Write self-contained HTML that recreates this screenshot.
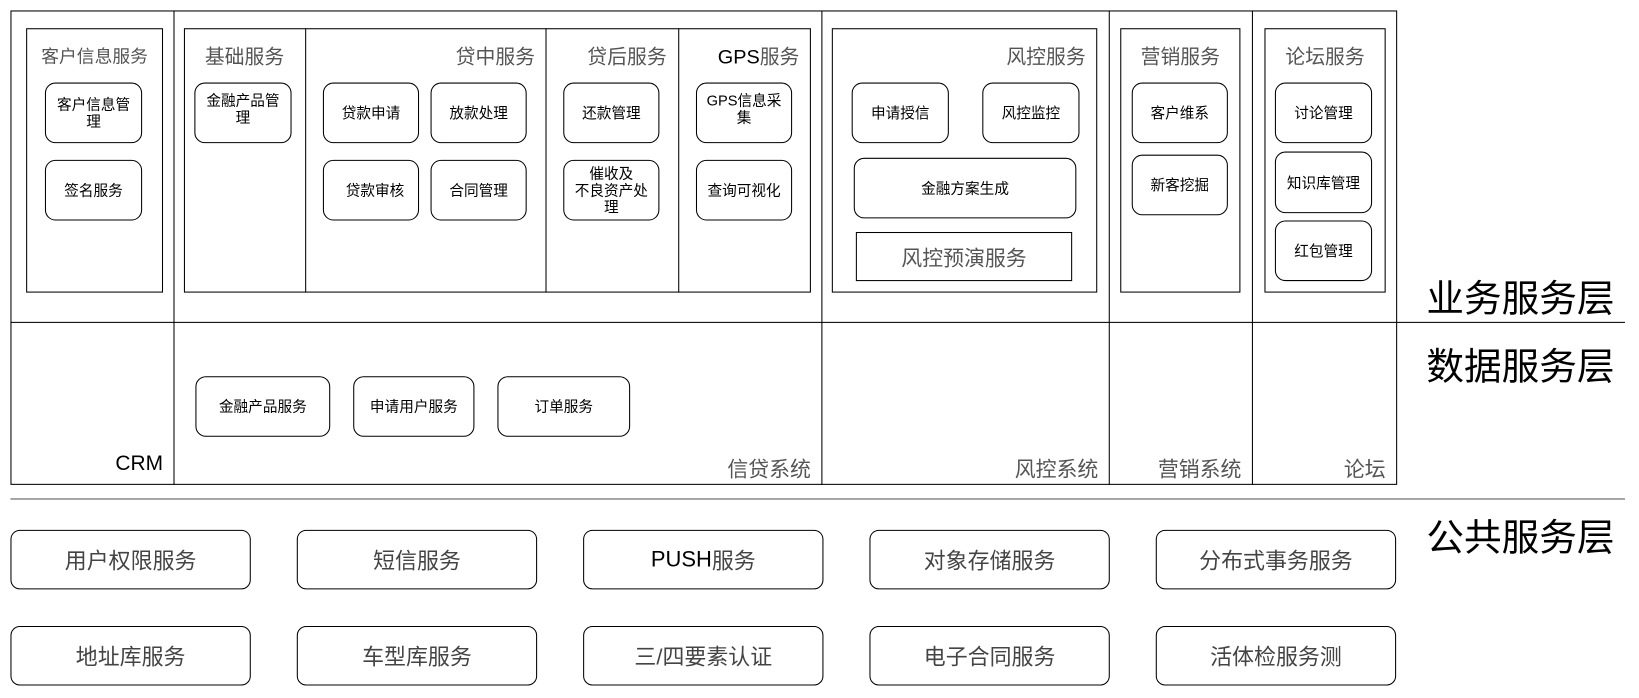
<!DOCTYPE html>
<html><head><meta charset="utf-8"><style>
html,body{margin:0;padding:0;background:#fff;}
body{width:1639px;height:698px;overflow:hidden;position:relative;}
#s{position:absolute;left:0;top:0;width:1568px;height:668px;transform:scale(1.045);transform-origin:0 0;font-family:"Liberation Sans","Noto Sans CJK SC",sans-serif;}
.b{position:absolute;box-sizing:border-box;border:1.3px solid #000;}
.r{position:absolute;box-sizing:border-box;border:1.3px solid #000;border-radius:10px;display:flex;align-items:center;justify-content:center;text-align:center;font-size:14px;line-height:16px;color:#000;}
.t{position:absolute;font-size:19px;color:#555;white-space:nowrap;}
.l{position:absolute;font-size:36px;color:#000;white-space:nowrap;left:1365px;}
.p{position:absolute;box-sizing:border-box;border:1.3px solid #000;border-radius:9px;display:flex;align-items:center;justify-content:center;font-size:21px;color:#444;width:230px;height:57px;}
.h{position:absolute;height:0;border-top:1.3px solid #000;}
.v{position:absolute;width:0;border-left:1.3px solid #000;}
.lab{position:absolute;font-size:20px;color:#555;white-space:nowrap;text-align:right;}
</style></head><body><div id="s">
<div class="b" style="left:10px;top:10px;width:1327px;height:454px;"></div>
<div class="h" style="left:10px;top:308px;width:1545px;"></div>
<div class="h" style="left:10px;top:477px;width:1545px;border-color:#555;border-top-width:1.6px;"></div>
<div class="v" style="left:166px;top:10px;height:454px;"></div>
<div class="v" style="left:786px;top:10px;height:454px;"></div>
<div class="v" style="left:1061px;top:10px;height:454px;"></div>
<div class="v" style="left:1198px;top:10px;height:454px;"></div>

<div class="b" style="left:25px;top:27px;width:131px;height:253px;"></div>
<div class="t" style="left:25px;width:131px;text-align:center;top:40px;font-size:17px;">客户信息服务</div>
<div class="r" style="left:43px;top:79px;width:93px;height:58px;">客户信息管<br>理</div>
<div class="r" style="left:43px;top:153px;width:93px;height:58px;">签名服务</div>

<div class="b" style="left:176px;top:27px;width:600px;height:253px;"></div>
<div class="v" style="left:292px;top:27px;height:253px;"></div>
<div class="v" style="left:522px;top:27px;height:253px;"></div>
<div class="v" style="left:649px;top:27px;height:253px;"></div>
<div class="t" style="left:196px;top:40px;">基础服务</div>
<div class="t" style="left:292px;width:220px;text-align:right;top:40px;">贷中服务</div>
<div class="t" style="left:522px;width:116px;text-align:right;top:40px;">贷后服务</div>
<div class="t" style="left:649px;width:116px;text-align:right;top:40px;color:#000;">GPS<span style="color:#555">服务</span></div>
<div class="r" style="left:186px;top:79px;width:93px;height:58px;align-items:flex-start;padding-top:8px;">金融产品管<br>理</div>
<div class="r" style="left:309px;top:79px;width:92px;height:58px;">贷款申请</div>
<div class="r" style="left:412px;top:79px;width:92px;height:58px;">放款处理</div>
<div class="r" style="left:309px;top:153px;width:92px;height:58px;">&nbsp;&nbsp;贷款审核</div>
<div class="r" style="left:412px;top:153px;width:92px;height:58px;">合同管理</div>
<div class="r" style="left:539px;top:79px;width:92px;height:58px;">还款管理</div>
<div class="r" style="left:539px;top:153px;width:92px;height:58px;">催收及<br>不良资产处<br>理</div>
<div class="r" style="left:666px;top:79px;width:92px;height:58px;align-items:flex-start;padding-top:8px;">GPS信息采<br>集</div>
<div class="r" style="left:666px;top:153px;width:92px;height:58px;">查询可视化</div>

<div class="b" style="left:796px;top:27px;width:254px;height:253px;"></div>
<div class="t" style="left:796px;width:243px;text-align:right;top:40px;">风控服务</div>
<div class="r" style="left:815px;top:79px;width:93px;height:58px;">申请授信</div>
<div class="r" style="left:940px;top:79px;width:93px;height:58px;">风控监控</div>
<div class="r" style="left:817px;top:151px;width:213px;height:58px;">金融方案生成</div>
<div class="b" style="left:819px;top:222px;width:207px;height:47px;display:flex;align-items:center;justify-content:center;font-size:20px;color:#555;">风控预演服务</div>

<div class="b" style="left:1072px;top:27px;width:115px;height:253px;"></div>
<div class="t" style="left:1072px;width:115px;text-align:center;top:40px;">营销服务</div>
<div class="r" style="left:1083px;top:79px;width:92px;height:58px;">客户维系</div>
<div class="r" style="left:1083px;top:148px;width:92px;height:58px;">新客挖掘</div>

<div class="b" style="left:1210px;top:27px;width:116px;height:253px;"></div>
<div class="t" style="left:1210px;width:116px;text-align:center;top:40px;">论坛服务</div>
<div class="r" style="left:1220px;top:79px;width:93px;height:58px;">讨论管理</div>
<div class="r" style="left:1220px;top:145px;width:93px;height:59px;">知识库管理</div>
<div class="r" style="left:1220px;top:211px;width:93px;height:58px;">红包管理</div>

<div class="r" style="left:187px;top:360px;width:129px;height:58px;">金融产品服务</div>
<div class="r" style="left:338px;top:360px;width:116px;height:58px;">申请用户服务</div>
<div class="r" style="left:476px;top:360px;width:127px;height:58px;">订单服务</div>

<div class="lab" style="left:10px;width:146px;top:433px;color:#000;">CRM</div>
<div class="lab" style="left:166px;width:610px;top:433px;">信贷系统</div>
<div class="lab" style="left:786px;width:265px;top:433px;">风控系统</div>
<div class="lab" style="left:1061px;width:127px;top:433px;">营销系统</div>
<div class="lab" style="left:1198px;width:128px;top:433px;">论坛</div>

<div class="l" style="top:257px;">业务服务层</div>
<div class="l" style="top:322px;">数据服务层</div>
<div class="l" style="top:486px;">公共服务层</div>

<div class="p" style="left:10px;top:507px;">用户权限服务</div>
<div class="p" style="left:284px;top:507px;">短信服务</div>
<div class="p" style="left:558px;top:507px;"><span style="color:#000">PUSH</span>服务</div>
<div class="p" style="left:832px;top:507px;">对象存储服务</div>
<div class="p" style="left:1106px;top:507px;">分布式事务服务</div>
<div class="p" style="left:10px;top:599px;">地址库服务</div>
<div class="p" style="left:284px;top:599px;">车型库服务</div>
<div class="p" style="left:558px;top:599px;">三/四要素认证</div>
<div class="p" style="left:832px;top:599px;">电子合同服务</div>
<div class="p" style="left:1106px;top:599px;">活体检服务测</div>
</div></body></html>
